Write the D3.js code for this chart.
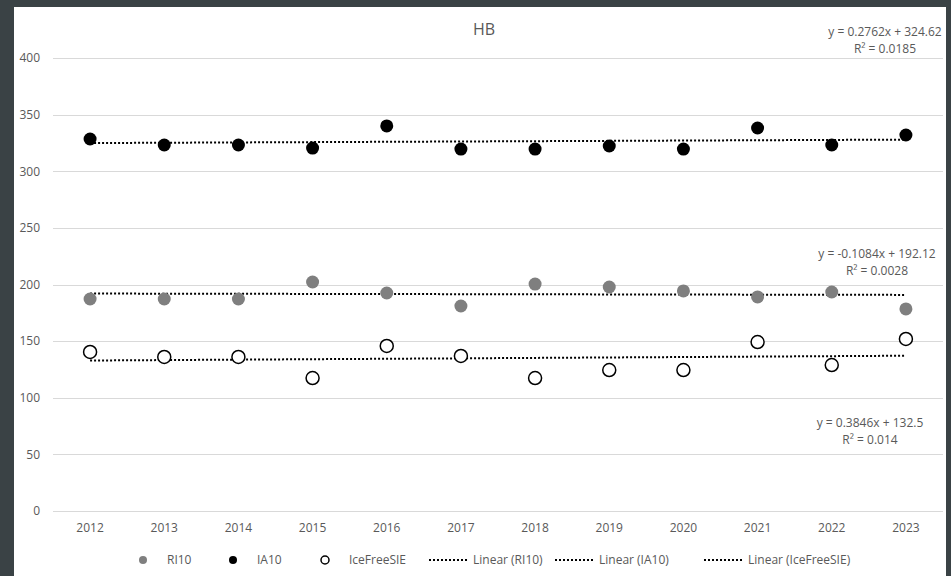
<!DOCTYPE html>
<html>
<head>
<meta charset="utf-8">
<script src="https://cdn.jsdelivr.net/npm/d3@7"></script>
<style>
  html, body { margin: 0; padding: 0; background: #3a4245; }
  svg { display: block; }
  text { font-family: "Liberation Sans Narrow", "Open Sans", "Liberation Sans", sans-serif; fill: #595959; }
</style>
</head>
<body>
<svg id="chart" width="951" height="576"></svg>
<script>
// Years along the x axis
const years = ["2012","2013","2014","2015","2016","2017","2018","2019","2020","2021","2022","2023"];
// Series values
const ri10 = [187.2, 187.2, 187.2, 202.2, 192.5, 181.0, 200.4, 197.8, 194.3, 189.0, 193.4, 178.4];
const ia10 = [328.5, 323.2, 323.2, 320.5, 340.0, 319.6, 319.6, 322.3, 319.6, 338.2, 323.2, 332.0];
const iceFreeSIE = [140.4, 136.0, 136.0, 117.4, 145.7, 136.9, 117.4, 124.5, 124.5, 149.2, 128.9, 151.9];
// Linear trend coefficients (x = 1..12)
const trendRI10 = { slope: -0.1084, intercept: 192.12, r2: "0.0028", text: "y = -0.1084x + 192.12" };
const trendIA10 = { slope: 0.2762, intercept: 324.62, r2: "0.0185", text: "y = 0.2762x + 324.62" };
const trendIce = { slope: 0.3846, intercept: 132.5, r2: "0.014", text: "y = 0.3846x + 132.5" };
// Y axis ticks
const yTicks = [0, 50, 100, 150, 200, 250, 300, 350, 400];
const chartTitle = "HB";

const svg = d3.select("#chart");
// white chart area inside dark frame
svg.append("rect").attr("x", 14).attr("y", 7).attr("width", 932).attr("height", 569).attr("fill", "#ffffff");

const x = d3.scaleBand().domain(years).range([53, 943]);
const y = d3.scaleLinear().domain([0, 400]).range([511, 58]);
const cx = d => x(d) + x.bandwidth() / 2;

// gridlines
svg.append("g").selectAll("line").data(yTicks).join("line")
  .attr("x1", 53).attr("x2", 943)
  .attr("y1", d => Math.round(y(d)) + 0.5).attr("y2", d => Math.round(y(d)) + 0.5)
  .attr("stroke", "#d9d9d9").attr("stroke-width", 1);

// y axis labels
const yAxis = d3.axisLeft(y).tickValues(yTicks).tickSize(0).tickPadding(13);
const yg = svg.append("g").attr("transform", "translate(53,0)").call(yAxis);
yg.select(".domain").remove();
yg.selectAll("text").style("font-size", "12px").attr("fill", "#595959");

// x axis labels
const xAxis = d3.axisBottom(x).tickSize(0).tickPadding(12);
const xg = svg.append("g").attr("transform", "translate(0,511)").call(xAxis);
xg.select(".domain").remove();
xg.selectAll("text").style("font-size", "12px").attr("fill", "#595959");

// title
svg.append("text").attr("x", 484).attr("y", 35).attr("text-anchor", "middle")
  .style("font-size", "16px").text(chartTitle);

// trend lines
function trendLine(t) {
  const i0 = 1, i1 = years.length;
  svg.append("line")
    .attr("x1", cx(years[0])).attr("x2", cx(years[years.length - 1]))
    .attr("y1", y(t.slope * i0 + t.intercept)).attr("y2", y(t.slope * i1 + t.intercept))
    .attr("stroke", "#000").attr("stroke-width", 2).attr("stroke-dasharray", "2,2");
}
[trendRI10, trendIA10, trendIce].forEach(trendLine);

// markers
function markers(vals, fill, stroke) {
  svg.append("g").selectAll("circle").data(vals).join("circle")
    .attr("cx", (d, i) => cx(years[i])).attr("cy", d => y(d)).attr("r", 6.5)
    .attr("fill", fill).attr("stroke", stroke).attr("stroke-width", stroke === "none" ? 0 : 1.5);
}
markers(ri10, "#7f7f7f", "none");
markers(ia10, "#000000", "none");
markers(iceFreeSIE, "#ffffff", "#000000");

// trend equation labels
function eqLabel(t, cxp, y1) {
  const g = svg.append("g").style("font-size", "12px");
  g.append("text").attr("x", cxp).attr("y", y1).attr("text-anchor", "middle").text(t.text);
  g.append("text").attr("x", cxp).attr("y", y1 + 16.5).attr("text-anchor", "middle").text("R² = " + t.r2);
}
eqLabel(trendIA10, 885, 36);
eqLabel(trendRI10, 877, 258);
eqLabel(trendIce, 870, 427);

// legend
const legend = [
  { type: "dot", fill: "#7f7f7f", stroke: "none", label: "RI10", mx: 143, tx: 167 },
  { type: "dot", fill: "#000000", stroke: "none", label: "IA10", mx: 233, tx: 257 },
  { type: "dot", fill: "#ffffff", stroke: "#000", label: "IceFreeSIE", mx: 325, tx: 349 },
  { type: "line", label: "Linear (RI10)", mx: 429, tx: 473 },
  { type: "line", label: "Linear (IA10)", mx: 555, tx: 599 },
  { type: "line", label: "Linear (IceFreeSIE)", mx: 704, tx: 748 }
];
const ly = 560;
legend.forEach(l => {
  if (l.type === "dot") {
    svg.append("circle").attr("cx", l.mx).attr("cy", ly).attr("r", 4)
      .attr("fill", l.fill).attr("stroke", l.stroke).attr("stroke-width", l.stroke === "none" ? 0 : 1.5);
  } else {
    svg.append("line").attr("x1", l.mx).attr("x2", l.mx + 38).attr("y1", ly).attr("y2", ly)
      .attr("stroke", "#000").attr("stroke-width", 2).attr("stroke-dasharray", "2,2");
  }
  svg.append("text").attr("x", l.tx).attr("y", ly + 4).style("font-size", "12px").text(l.label);
});
</script>
</body>
</html>
